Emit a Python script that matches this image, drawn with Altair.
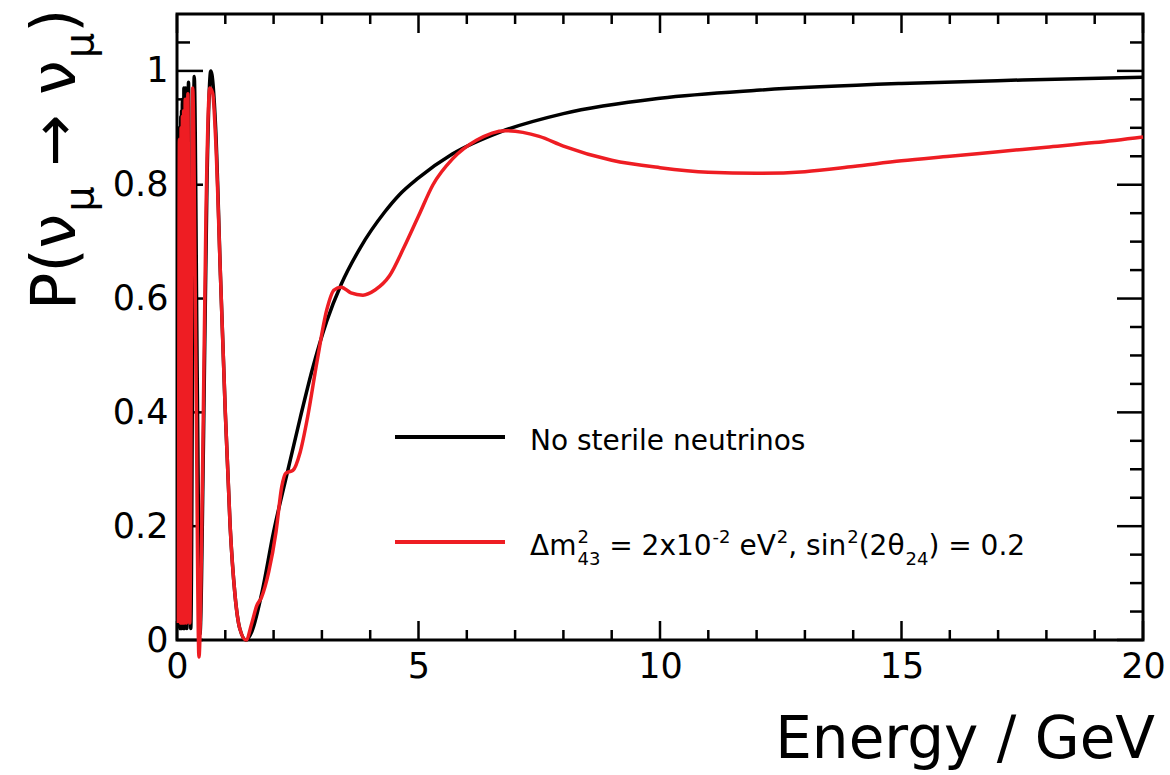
import altair as alt
import pandas as pd

# Muon-neutrino survival probability versus neutrino energy (GeV)
energy_std = [0.03, 0.05, 0.065, 0.079, 0.089, 0.095, 0.102, 0.110, 0.119, 0.131,
              0.143, 0.158, 0.178, 0.204, 0.238, 0.285, 0.357, 0.42, 0.475, 0.55,
              0.62, 0.70, 0.80, 0.90, 1.00, 1.10, 1.20, 1.30, 1.43, 1.55,
              1.75, 2.00, 2.30, 2.55, 2.80, 3.10, 3.40, 3.80, 4.30, 4.60,
              5.00, 5.70, 6.70, 8.00, 10.0, 12.0, 15.0, 17.5, 20.0]
prob_std = [0.02, 0.90, 0.02, 0.92, 0.02, 0.93, 0.02, 0.94, 0.95, 0.02,
            0.97, 0.02, 0.97, 0.02, 0.98, 0.02, 0.99, 0.45, 0.01, 0.36,
            0.80, 1.00, 0.90, 0.64, 0.40, 0.20, 0.08, 0.02, 0.00, 0.015,
            0.08, 0.19, 0.30, 0.39, 0.475, 0.56, 0.625, 0.69, 0.752, 0.782,
            0.812, 0.854, 0.893, 0.925, 0.952, 0.966, 0.978, 0.984, 0.989]

energy_sterile = [0.03, 0.05, 0.07, 0.085, 0.10, 0.112, 0.125, 0.138, 0.152, 0.17,
                  0.195, 0.225, 0.265, 0.325, 0.39, 0.455, 0.53, 0.60, 0.68, 0.74,
                  0.80, 0.90, 1.00, 1.10, 1.20, 1.30, 1.43, 1.55, 1.65, 1.75,
                  1.90, 2.05, 2.17, 2.25, 2.40, 2.55, 2.70, 2.90, 3.10, 3.25,
                  3.40, 3.60, 3.85, 4.10, 4.40, 4.70, 5.00, 5.30, 5.70, 6.20,
                  6.80, 7.50, 8.00, 9.00, 10.0, 11.0, 12.0, 13.0, 14.0, 15.0,
                  16.0, 17.0, 18.0, 19.0, 20.0]
prob_sterile = [0.03, 0.88, 0.03, 0.90, 0.03, 0.92, 0.03, 0.93, 0.03, 0.95,
                0.03, 0.96, 0.03, 0.97, 0.50, -0.03, 0.30, 0.75, 0.97, 0.96,
                0.88, 0.64, 0.40, 0.20, 0.08, 0.02, 0.00, 0.03, 0.06, 0.075,
                0.12, 0.19, 0.27, 0.293, 0.298, 0.33, 0.39, 0.49, 0.58, 0.615,
                0.62, 0.61, 0.606, 0.615, 0.64, 0.69, 0.745, 0.80, 0.845, 0.878,
                0.895, 0.885, 0.868, 0.843, 0.83, 0.822, 0.82, 0.823, 0.832, 0.842,
                0.85, 0.858, 0.866, 0.874, 0.884]

# Tick positions
x_major = [0, 5, 10, 15, 20]
x_minor = [1, 2, 3, 4, 6, 7, 8, 9, 11, 12, 13, 14, 16, 17, 18, 19]
y_major = [0, 0.2, 0.4, 0.6, 0.8, 1.0]
y_minor = [0.05, 0.1, 0.15, 0.25, 0.3, 0.35, 0.45, 0.5, 0.55,
           0.65, 0.7, 0.75, 0.85, 0.9, 0.95, 1.05]

legend_std = "No sterile neutrinos"

FONT = "DejaVu Sans"
RED = "#ee1d23"
LEFT, TOP = 177, 14          # page position of the frame's top-left corner
W, H = 966, 626              # frame size
PAGE_W, PAGE_H = 1170, 775

xs = alt.Scale(domain=[0, 20], nice=False, zero=False)
ys = alt.Scale(domain=[0, 1.1], nice=False, zero=False)

x_axis = alt.Axis(values=x_major, format="d", title=None, ticks=False, domain=False,
                  grid=False, labelFont=FONT, labelFontSize=35, labelColor="black",
                  labelPadding=9, labelFlush=False, labelOverlap=False)
y_axis = alt.Axis(values=y_major, format=".1~f", title=None, ticks=False, domain=False,
                  grid=False, labelFont=FONT, labelFontSize=35, labelColor="black",
                  labelPadding=9, labelFlush=False, labelOverlap=False)

# DejaVu Sans advance widths (em) used to lay out composed labels
SPACE = 0.318
ADV = {" ": SPACE, "Δ": 0.684, "m": 0.974, "=": 0.838, "x": 0.592, "-": 0.361,
       "e": 0.615, "V": 0.684, ",": 0.318, "s": 0.521, "i": 0.278, "n": 0.634,
       "(": 0.390, ")": 0.390, "θ": 0.613, ".": 0.318, "P": 0.603, "ν": 0.592,
       "μ": 0.635, "→": 0.838}


def adv(s, size):
    return sum(ADV.get(c, 0.636) for c in s) * size


def text(s, px, py, size, align="left", baseline="alphabetic", angle=0):
    """Text placed at page coordinates."""
    mk = dict(align=align, baseline=baseline, font=FONT, fontSize=size, color="black")
    if angle:
        mk["angle"] = angle
    return alt.Chart(pd.DataFrame({"t": [s]})).mark_text(**mk).encode(
        text="t:N", x=alt.value(px - LEFT), y=alt.value(py - TOP))


def xticks(vals, length, top):
    y0, y1 = (0, length) if top else (H, H - length)
    return alt.Chart(pd.DataFrame({"E": vals})).mark_rule(
        color="black", strokeWidth=2.5).encode(
        x=alt.X("E:Q", scale=xs, axis=x_axis), y=alt.value(y0), y2=alt.value(y1))


def yticks(vals, length, right):
    x0, x1 = (W, W - length) if right else (0, length)
    return alt.Chart(pd.DataFrame({"P": vals})).mark_rule(
        color="black", strokeWidth=2.5).encode(
        y=alt.Y("P:Q", scale=ys, axis=y_axis), x=alt.value(x0), x2=alt.value(x1))


layers = []
for side in (False, True):
    layers += [xticks(x_major, 19, side), xticks(x_minor, 10, side),
               yticks(y_major, 26, side), yticks(y_minor, 13, side)]


def curve(e, p, color):
    df = pd.DataFrame({"E": e, "P": p})
    return alt.Chart(df).mark_line(color=color, strokeWidth=3.5, interpolate="monotone").encode(
        x=alt.X("E:Q", scale=xs, axis=x_axis), y=alt.Y("P:Q", scale=ys, axis=y_axis),
        order="E:Q")


layers.append(curve(energy_std, prob_std, "black"))
layers.append(curve(energy_sterile, prob_sterile, RED))

# legend
for color, py in (("black", 437), (RED, 542)):
    layers.append(alt.Chart(pd.DataFrame({"k": [0]})).mark_rule(color=color, strokeWidth=4).encode(
        x=alt.value(395 - LEFT), x2=alt.value(505 - LEFT), y=alt.value(py - TOP)))

LS, SS = 28, 18


def run_horizontal(pieces, x0, base):
    """Lay out a label made of normal, superscript and subscript pieces."""
    out, pos = [], x0
    for s, kind in pieces:
        if kind == "stack":
            up, dn = s
            out.append(text(up, pos + 1, base - 12, SS))
            out.append(text(dn, pos + 1, base + 10, SS))
            pos += max(adv(up, SS), adv(dn, SS)) + 1
            continue
        size = LS if kind == "n" else SS
        dy = {"n": 0, "sup": -12, "sub": 10}[kind]
        lead = len(s) - len(s.lstrip(" "))
        out.append(text(s.lstrip(" "), pos + lead * SPACE * size + (0 if kind == "n" else 1),
                        base + dy, size))
        pos += adv(s, size) + (0 if kind == "n" else 1)
    return out


layers.append(text(legend_std, 530, 450, LS))
layers += run_horizontal(
    [("Δm", "n"), (("2", "43"), "stack"), (" = 2x10", "n"), ("-2", "sup"),
     (" eV", "n"), ("2", "sup"), (", sin", "n"), ("2", "sup"), ("(2θ", "n"),
     ("24", "sub"), (") = 0.2", "n")],
    530, 555)

# y-axis title, written bottom-to-top
TS, TSS = 62, 40
ypos = 310
for s, kind in [("P(ν", "n"), ("μ", "sub"), (" → ν", "n"), ("μ", "sub"), (")", "n")]:
    size = TS if kind == "n" else TSS
    bx = 75 if kind == "n" else 93
    lead = len(s) - len(s.lstrip(" "))
    layers.append(text(s.lstrip(" "), bx, ypos - lead * SPACE * size, size, angle=270))
    ypos -= adv(s, size)

# x-axis title
layers.append(text("Energy / GeV", 1155, 758, 58, align="right"))

chart = alt.layer(*layers).properties(
    width=W, height=H,
    background="white",
    autosize=alt.AutoSizeParams(type="none"),
    padding={"left": LEFT, "top": TOP, "right": PAGE_W - LEFT - W, "bottom": PAGE_H - TOP - H},
).configure_view(stroke="black", strokeWidth=3)

chart.save("out.html", embed_options={"renderer": "svg", "actions": False})
